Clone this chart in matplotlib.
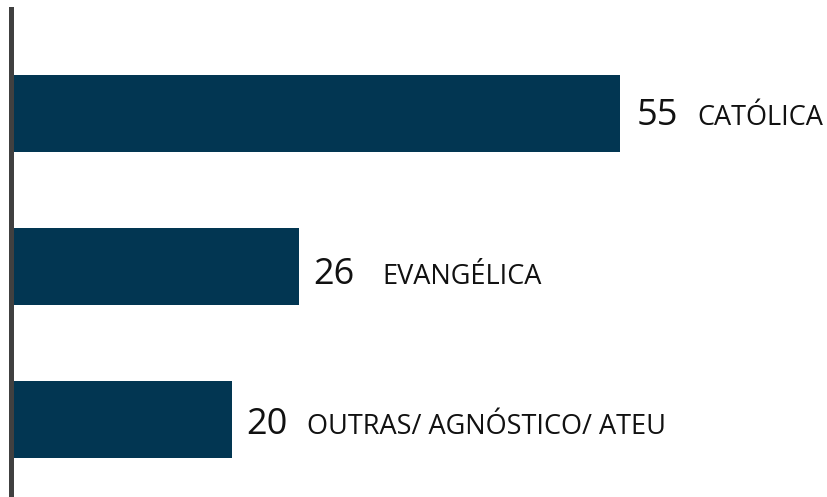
import matplotlib
matplotlib.use("Agg")
import matplotlib.pyplot as plt

categories = ["CATÓLICA", "EVANGÉLICA", "OUTRAS/ AGNÓSTICO/ ATEU"]
values = [55, 26, 20]

BAR_COLOR = "#023652"
# per-label offsets (pixels) from bar end: number x, category x, baseline y
num_dx = [17, 14, 14]
cat_dx = [78, 84, 75]
base_dy = [-12, -18, -15]

fig = plt.figure(figsize=(8.27, 4.97), dpi=100)
ax = fig.add_axes([11 / 827, 0, 1 - 11 / 827, 488 / 497])

pos = list(range(len(values)))
ax.barh(pos, values, height=0.503, color=BAR_COLOR, zorder=1)
ax.set_ylim(2.507, -0.683)
ax.set_xlim(0, 816 / 11.07)

for i, (v, c) in enumerate(zip(values, categories)):
    ax.annotate(str(v), (v, i), xytext=(num_dx[i], base_dy[i]),
                textcoords="offset pixels", va="baseline", ha="left",
                fontsize=26, family="Open Sans", color="#111111",
                annotation_clip=False)
    ax.annotate(c, (v, i), xytext=(cat_dx[i], base_dy[i]),
                textcoords="offset pixels", va="baseline", ha="left",
                fontsize=19.5, family="Open Sans", color="#111111",
                annotation_clip=False)

for s in ["top", "right", "bottom"]:
    ax.spines[s].set_visible(False)
ax.spines["left"].set_color("#404040")
ax.spines["left"].set_linewidth(3.6)
ax.spines["left"].set_zorder(3)
ax.set_xticks([])
ax.set_yticks([])
ax.patch.set_alpha(0)

fig.savefig("out.png", dpi=100)
